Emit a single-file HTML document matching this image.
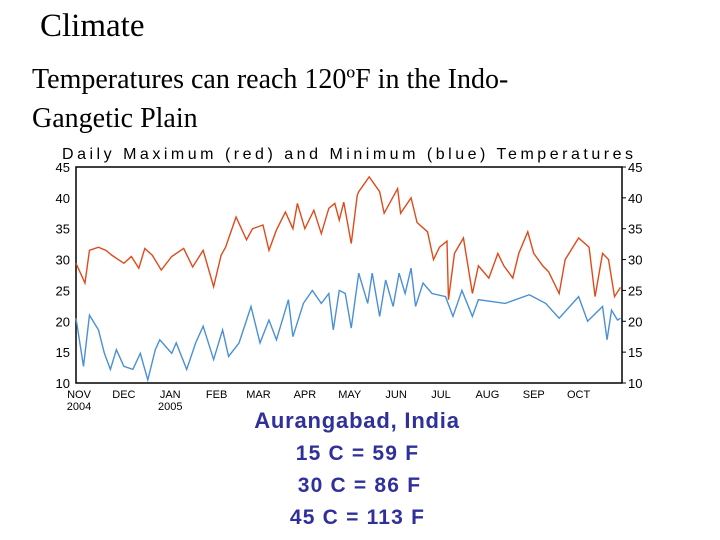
<!DOCTYPE html>
<html><head><meta charset="utf-8"><style>
body{margin:0;width:720px;height:540px;background:#fff;overflow:hidden;position:relative;font-family:"Liberation Serif",serif}
.t{position:absolute;white-space:nowrap}
.c{left:0;text-align:center;font:bold 21px 'Liberation Sans',sans-serif;color:#30309a;letter-spacing:1.2px}
</style></head><body>
<div class="t" style="left:40px;top:8px;font-size:33px">Climate</div>
<div class="t" style="left:32px;top:60px;font-size:28px;line-height:39px">Temperatures can reach 120ºF in the Indo-<br>Gangetic Plain</div>
<svg width="720" height="540" style="position:absolute;left:0;top:0" id="chart"></svg>
<div class="t c" style="width:714px;top:408px;font-size:22px;letter-spacing:0.8px">Aurangabad, India</div>
<div class="t c" style="width:715px;top:442px">15 C = 59 F</div>
<div class="t c" style="width:719px;top:474px">30 C = 86 F</div>
<div class="t c" style="width:715px;top:506px">45 C = 113 F</div>
<script>
const yTicks=[10,15,20,25,30,35,40,45];
const months=["NOV","DEC","JAN","FEB","MAR","APR","MAY","JUN","JUL","AUG","SEP","OCT"];
const monthDays=[0,30,61,92,120,151,181,212,242,273,304,334];
const yearLabels=["2004","","2005","","","","","","","","",""];
const maxDays=[0,6,9,15,20,24,32,37,42,46,51,57,64,72,78,85,92,97,100,107,114,118,125,129,134,140,145,148,153,159,164,169,173,176,179,184,188,189,196,203,206,215,217,224,228,235,239,243,248,249,253,259,265,269,276,282,286,292,296,302,306,312,316,323,327,336,343,347,352,356,360,364];
const maxVals=[29.4,26.2,31.5,32,31.5,30.7,29.4,30.5,28.6,31.8,30.7,28.3,30.5,31.8,28.8,31.5,25.6,30.7,32,36.9,33.2,35,35.6,31.5,34.8,37.7,35,39.1,35,38,34.2,38.3,39.1,36.4,39.3,32.6,40.4,41,43.4,41,37.5,41.5,37.5,40,36,34.5,30,32,33,23.5,31,33.5,24.5,29,27,31,29,27,31,34.5,31,29,28,24.5,30,33.5,32,24,31,30,24,25.5];
const minDays=[0,5,9,15,19,23,27,32,38,43,48,53,56,64,67,74,80,85,92,98,102,109,117,123,129,134,142,145,152,158,164,169,172,176,180,184,189,195,198,203,207,212,216,220,224,227,232,238,247,252,258,265,269,287,303,314,323,336,342,352,355,358,362,364];
const minVals=[20.5,12.7,21,18.6,14.8,12.2,15.4,12.7,12.2,14.8,10.5,15.4,17,14.8,16.5,12.2,16.5,19.2,13.8,18.6,14.3,16.5,22.4,16.5,20.2,17,23.5,17.5,22.9,25,22.9,24.5,18.6,25,24.5,18.9,27.8,22.9,27.8,20.8,26.7,22.4,27.8,24.5,28.6,22.4,26.2,24.5,24,20.8,25,20.8,23.5,22.9,24.3,22.9,20.5,24,20,22.4,17,21.8,20.2,20.5];
const L=76,R=622,T=167,B=383;
const x=d=>L+d*(R-L)/365;
const y=v=>B-(v-10)*(B-T)/35;
const svg=document.getElementById('chart');
const NS='http://www.w3.org/2000/svg';
function mk(tag,attrs,text){const e=document.createElementNS(NS,tag);for(const k in attrs)e.setAttribute(k,attrs[k]);if(text!==undefined)e.textContent=text;svg.appendChild(e);return e;}
const title=mk('text',{x:62,y:159,'font-family':'Liberation Sans, sans-serif','font-size':16,'letter-spacing':'1'},'Daily Maximum (red) and Minimum (blue) Temperatures');


title.setAttribute('textLength','572');
const frame=mk('rect',{x:L,y:T,width:R-L,height:B-T,fill:'none',stroke:'#000','stroke-width':1.5});


yTicks.forEach(v=>{
 const a=mk('text',{x:70,y:y(v)+5,'text-anchor':'end','font-family':'Liberation Sans, sans-serif','font-size':13},v);
 
 
 const b=mk('text',{x:628,y:y(v)+5,'font-family':'Liberation Sans, sans-serif','font-size':13},v);
 
 
 mk('line',{x1:R,x2:R+4,y1:y(v),y2:y(v),stroke:'#000'});
});
months.forEach((m,i)=>{
 const t=mk('text',{x:x(monthDays[i])+3,y:398,'text-anchor':'middle','font-family':'Liberation Sans, sans-serif','font-size':11},m);
 
 
 if(yearLabels[i]){const u=mk('text',{x:x(monthDays[i])+3,y:410,'text-anchor':'middle','font-family':'Liberation Sans, sans-serif','font-size':11},yearLabels[i]);
 
 }
});
const pr=mk('polyline',{points:maxDays.map((d,i)=>x(d)+','+y(maxVals[i])).join(' '),fill:'none',stroke:'#e04a1a','stroke-width':1.4});


const pb=mk('polyline',{points:minDays.map((d,i)=>x(d)+','+y(minVals[i])).join(' '),fill:'none',stroke:'#4a90d4','stroke-width':1.4});


</script>
</body></html>
